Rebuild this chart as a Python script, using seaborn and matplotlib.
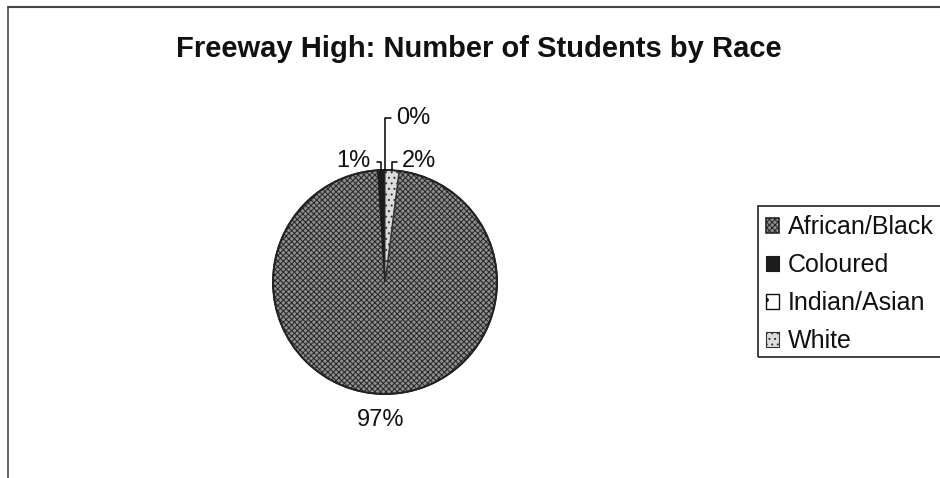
import numpy as np
import matplotlib
matplotlib.use("Agg")
import matplotlib.pyplot as plt
from matplotlib.lines import Line2D
from matplotlib.patches import Rectangle
import seaborn as sns

# Enrolment shares by race group
categories = ["African/Black", "Coloured", "Indian/Asian", "White"]
shares = [97, 1, 0, 2]
pct_labels = ["97%", "1%", "0%", "2%"]

sns.set_theme(style="white")
plt.rcParams["font.family"] = ["Liberation Sans", "DejaVu Sans"]
plt.rcParams["hatch.linewidth"] = 0.7

W, H = 940, 478
fig = plt.figure(figsize=(W / 100, H / 100), dpi=100)
fig.patch.set_facecolor("white")

# pie area: centre (385, 282) px, radius 112 px
cx, cy, r = 385, 282, 112
ax = fig.add_axes([(cx - r) / W, (H - cy - r) / H, 2 * r / W, 2 * r / H])

styles = [
    dict(facecolor="#8e8e8e", edgecolor="#262626", hatch="xxxxxx", linewidth=1.2),
    dict(facecolor="#1c1c1c", edgecolor="#1c1c1c", hatch="", linewidth=0.8),
    dict(facecolor="#ffffff", edgecolor="#111111", hatch=".", linewidth=1.0),
    dict(facecolor="#dcdcdc", edgecolor="#333333", hatch="...", linewidth=0.8),
]

wedges, _ = ax.pie(shares, startangle=82.8, counterclock=False, radius=1.0)
ax.set_xlim(-1, 1)
ax.set_ylim(-1, 1)
ax.set_aspect("equal")
ax.axis("off")
for w, st in zip(wedges, styles):
    w.set_facecolor(st["facecolor"])
    w.set_edgecolor(st["edgecolor"])
    w.set_hatch(st["hatch"])
    w.set_linewidth(st["linewidth"])
# dark rim around the whole pie
ax.add_patch(plt.Circle((0, 0), 1.0, fill=False, edgecolor="#222222", lw=1.4, clip_on=False))

def mid_angle(w):
    return np.deg2rad((w.theta1 + w.theta2) / 2)

lab_fs = 17
line_kw = dict(color="black", lw=1.1, clip_on=False)

# 97% below the pie
a = mid_angle(wedges[0])
ax.text(1.23 * np.cos(a), 1.23 * np.sin(a), pct_labels[0], ha="center", va="center",
        fontsize=lab_fs, color="#111111", clip_on=False)

# 1% : leader up then to the left
a = mid_angle(wedges[1])
x0, y0 = np.cos(a), np.sin(a)
ax.add_line(Line2D([x0, x0, -0.075], [y0, 1.075, 1.075], **line_kw))
ax.text(-0.125, 1.08, pct_labels[1], ha="right", va="center", fontsize=lab_fs, color="#111111")

# 0% : long leader up then to the right
a = mid_angle(wedges[2])
x0, y0 = np.cos(a), np.sin(a)
ax.add_line(Line2D([x0, x0, 0.05], [y0, 1.46, 1.46], **line_kw))
ax.text(0.095, 1.46, pct_labels[2], ha="left", va="center", fontsize=lab_fs, color="#111111")

# 2% : leader up then to the right
a = mid_angle(wedges[3])
x0, y0 = np.cos(a), np.sin(a)
ax.add_line(Line2D([x0, x0, 0.11], [y0, 1.075, 1.075], **line_kw))
ax.text(0.15, 1.08, pct_labels[3], ha="left", va="center", fontsize=lab_fs, color="#111111")

# title
fig.text(479 / W, 1 - 49 / H, "Freeway High: Number of Students by Race",
         ha="center", va="center", fontsize=21, fontweight="bold", color="#111111")

# legend (box runs off the right edge of the chart area)
leg = fig.legend(wedges, categories, loc="upper left",
                 bbox_to_anchor=(758 / W, 1 - 208 / H), bbox_transform=fig.transFigure,
                 frameon=False, fontsize=18, borderaxespad=0,
                 handlelength=0.52, handleheight=0.52, handletextpad=0.36,
                 labelspacing=0.56, borderpad=0.3)
for t in leg.get_texts():
    t.set_color("#111111")
fig.add_artist(Rectangle((758 / W, 1 - 357 / H), 0.2, (357 - 206) / H,
                         transform=fig.transFigure, fill=False,
                         edgecolor="#222222", lw=1.2))

# chart-area border (top and left edges)
fig.add_artist(Line2D([8 / W, 1.0], [1 - 7 / H, 1 - 7 / H], transform=fig.transFigure,
                      color="#444444", lw=1.5))
fig.add_artist(Line2D([8 / W, 8 / W], [0, 1 - 7 / H], transform=fig.transFigure,
                      color="#555555", lw=1.3))

fig.savefig("out.png", dpi=100, facecolor="white")
